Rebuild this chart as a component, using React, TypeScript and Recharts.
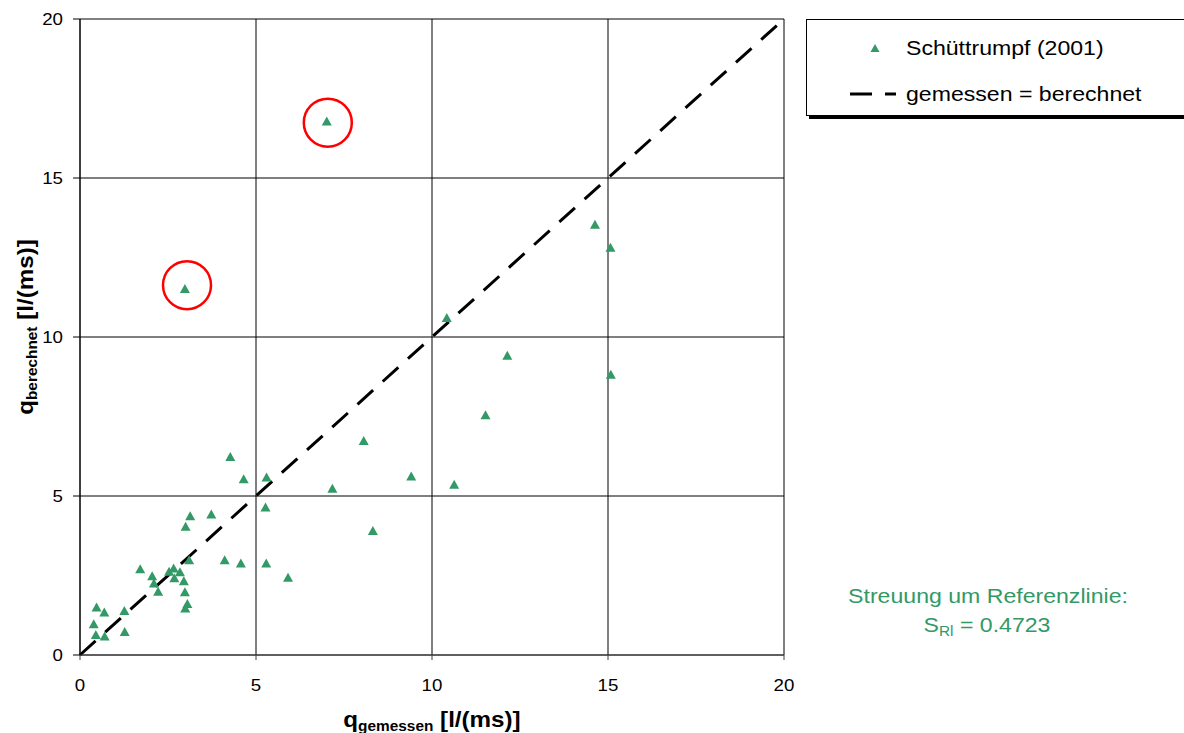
import {
  ScatterChart,
  Scatter,
  XAxis,
  YAxis,
  CartesianGrid,
  ReferenceLine,
  ReferenceDot,
} from 'recharts';

// gemessen (x) vs. berechnet (y), Schüttrumpf (2001)
const Q_GEMESSEN = [
  0.39, 0.45, 0.47, 0.69, 0.70, 1.26, 1.27, 1.71, 2.05, 2.10, 2.22, 2.53, 2.66, 2.68, 2.84,
  2.95, 2.98, 3.05, 2.99, 3.10, 3.00, 3.13, 3.73, 4.11, 4.27, 4.57, 4.65, 5.27, 5.29, 5.30,
  5.91, 7.17, 8.06, 8.32, 9.41, 10.42, 10.63, 11.52, 12.14, 14.63, 15.07, 15.08, 2.98, 7.01,
];
const Q_BERECHNET = [
  0.97, 0.63, 1.49, 1.34, 0.58, 1.38, 0.72, 2.70, 2.48, 2.25, 1.99, 2.62, 2.72, 2.41, 2.60,
  2.32, 1.97, 1.60, 1.46, 2.98, 4.03, 4.36, 4.42, 2.98, 6.23, 2.88, 5.53, 4.64, 2.88, 5.58,
  2.43, 5.23, 6.73, 3.90, 5.61, 10.60, 5.35, 7.54, 9.41, 13.53, 12.81, 8.81, 11.51, 16.78,
];
// outliers marked with a red circle
const OUTLIERS = [
  { x: 3.04, y: 11.63 },
  { x: 7.04, y: 16.74 },
];
const TICKS = [0, 5, 10, 15, 20];
const REF_LINE = [
  { x: 0, y: 0 },
  { x: 20, y: 20 },
];

const GREEN = '#339966';
const FONT = '"Liberation Sans", Arial, sans-serif';
const SX = 1.1; // the original text is a little wider than Arial

const data = Q_GEMESSEN.map((x, i) => ({ x, y: Q_BERECHNET[i] }));

const Triangle = (props: { cx?: number; cy?: number }) => {
  const { cx = 0, cy = 0 } = props;
  return <path d={`M${cx},${cy - 5} L${cx + 5},${cy + 4} L${cx - 5},${cy + 4} Z`} fill={GREEN} />;
};

// text stretched horizontally around its anchor point
const Wide = ({ x, y, anchor = 'start', size = 21, fill = '#000', bold = false, rotate = 0, children }: any) => (
  <text
    transform={`translate(${x},${y}) rotate(${rotate}) scale(${SX},1)`}
    textAnchor={anchor}
    fontSize={size}
    fontFamily={FONT}
    fontWeight={bold ? 'bold' : 'normal'}
    fill={fill}
  >
    {children}
  </text>
);

const XTick = (props: any) => {
  const { x, y, payload } = props;
  return <Wide x={x} y={y + 12} anchor="middle" size={17}>{payload.value}</Wide>;
};

const YTick = (props: any) => {
  const { x, y, payload } = props;
  return <Wide x={x} y={y + 6} anchor="end" size={17}>{payload.value}</Wide>;
};

const XTitle = ({ viewBox }: { viewBox?: { x: number; y: number; width: number } }) => {
  if (!viewBox) return null;
  const cx = viewBox.x + viewBox.width / 2;
  return (
    <Wide x={cx} y={viewBox.y + 72} anchor="middle" bold>
      <tspan fontSize={22}>q</tspan>
      <tspan fontSize={14} dy={4}>gemessen</tspan>
      <tspan fontSize={22} dy={-4}> [l/(ms)]</tspan>
    </Wide>
  );
};

const YTitle = () => (
  <Wide x={33} y={327} anchor="middle" bold rotate={-90}>
    <tspan fontSize={22}>q</tspan>
    <tspan fontSize={14} dy={4}>berechnet</tspan>
    <tspan fontSize={22} dy={-4}> [l/(ms)]</tspan>
  </Wide>
);

export default function App() {
  return (
    <div style={{ position: 'absolute', left: 0, top: 0, width: 1184, height: 733, overflow: 'hidden', background: '#fff', fontFamily: FONT }}>
      <ScatterChart width={1184} height={733} margin={{ top: 19, right: 400, bottom: 0, left: 0 }}>
        <CartesianGrid stroke="#000" strokeWidth={1} />
        <XAxis
          type="number"
          dataKey="x"
          domain={[0, 20]}
          ticks={TICKS}
          height={78}
          tickSize={5}
          tickMargin={19}
          stroke="#404040"
          tick={<XTick />}
          label={<XTitle />}
        />
        <YAxis
          type="number"
          dataKey="y"
          domain={[0, 20]}
          ticks={TICKS}
          width={80}
          tickSize={7}
          tickMargin={10}
          stroke="#000"
          tick={<YTick />}
          label={<YTitle />}
        />
        <ReferenceLine segment={REF_LINE} stroke="#000" strokeWidth={3} strokeDasharray="21 13" />
        <Scatter data={data} shape={<Triangle />} isAnimationActive={false} />
        {OUTLIERS.map((p, i) => (
          <ReferenceDot key={i} x={p.x} y={p.y} r={24} fill="none" stroke="#ff0000" strokeWidth={2.5} />
        ))}
      </ScatterChart>

      {/* legend and note */}
      <svg width={1184} height={733} style={{ position: 'absolute', left: 0, top: 0, pointerEvents: 'none' }}>
        <rect x={809} y={22} width={400} height={97} fill="#000" />
        <rect x={806.5} y={19.5} width={400} height={96} fill="#fff" stroke="#000" strokeWidth={1} />
        <path d="M875,44 L879.5,52 L870.5,52 Z" fill={GREEN} />
        <Wide x={906} y={55}>Schüttrumpf (2001)</Wide>
        <line x1={850} y1={94} x2={872} y2={94} stroke="#000" strokeWidth={3} />
        <line x1={885} y1={94} x2={896} y2={94} stroke="#000" strokeWidth={3} />
        <Wide x={906} y={101}>gemessen = berechnet</Wide>

        <Wide x={988} y={603} anchor="middle" fill={GREEN}>Streuung um Referenzlinie:</Wide>
        <Wide x={987} y={632} anchor="middle" fill={GREEN}>
          <tspan>S</tspan>
          <tspan fontSize={14} dy={4}>Rl</tspan>
          <tspan dy={-4}> = 0.4723</tspan>
        </Wide>
      </svg>
    </div>
  );
}
